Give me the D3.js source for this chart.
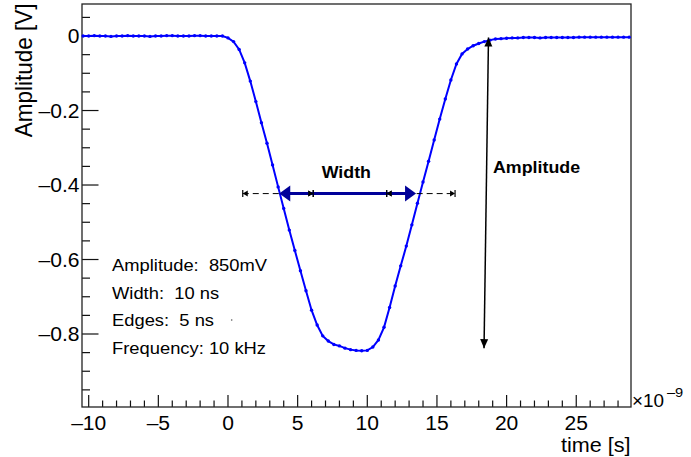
<!DOCTYPE html>
<html><head><meta charset="utf-8">
<script src="https://cdn.jsdelivr.net/npm/d3@7"></script>
<style>body{margin:0;background:#fff}svg{display:block}text{font-family:"Liberation Sans",Arial,Helvetica,sans-serif;white-space:pre}</style>
</head><body>
<script>
// ---- data ----
const times = [-10.4,-10.0,-9.6,-9.2,-8.8,-8.4,-8.0,-7.6,-7.2,-6.8,-6.4,-6.0,-5.6,-5.2,-4.8,-4.4,-4.0,-3.6,-3.2,-2.8,-2.4,-2.0,-1.6,-1.2,-0.8,-0.4,
0.0,0.4,0.8,1.2,1.6,2.0,2.4,2.8,3.2,3.6,4.0,4.4,4.8,5.2,5.6,6.0,6.4,6.8,7.2,7.6,8.0,8.4,8.8,9.2,9.6,10.0,10.4,10.8,11.2,11.6,12.0,12.4,12.8,13.2,13.6,14.0,14.4,14.8,15.2,15.6,16.0,16.4,16.8,17.2,17.6,18.0,18.4,18.8,19.2,
19.6,20.0,20.4,20.8,21.2,21.6,22.0,22.4,22.8,23.2,23.6,24.0,24.4,24.8,25.2,25.6,26.0,26.4,26.8,27.2,27.6,28.0,28.4,28.8];
const amplitude = [0.000,0.000,0.001,0.000,0.000,-0.001,0.000,0.000,0.001,0.000,0.000,0.000,-0.001,0.000,0.000,0.001,0.001,0.000,0.000,0.000,0.001,0.001,0.000,0.000,0.000,0.000,
-0.005,-0.015,-0.036,-0.072,-0.121,-0.176,-0.233,-0.288,-0.346,-0.405,-0.463,-0.521,-0.576,-0.630,-0.684,-0.736,-0.776,-0.805,-0.819,-0.828,-0.832,-0.838,-0.842,-0.844,-0.845,-0.844,-0.835,-0.816,-0.782,-0.729,-0.671,-0.617,-0.564,-0.507,-0.449,-0.392,-0.336,-0.279,-0.223,-0.169,-0.118,-0.075,-0.048,-0.035,-0.026,-0.020,-0.015,-0.011,-0.008,
-0.007,-0.006,-0.005,-0.005,-0.004,-0.004,-0.004,-0.005,-0.004,-0.004,-0.004,-0.004,-0.004,-0.004,-0.003,-0.003,-0.003,-0.003,-0.003,-0.003,-0.003,-0.003,-0.003,-0.003];
const xDomain = [-10.48, 28.93];
const yDomain = [-0.996, 0.086];
const xMajorTicks = [-10,-5,0,5,10,15,20,25];
const yMajorTicks = [0,-0.2,-0.4,-0.6,-0.8];
const yTickLabels = ["0","–0.2","–0.4","–0.6","–0.8"];
const xTickLabels = ["–10","–5","0","5","10","15","20","25"];
const widthSpan = [3.68, 13.5];
const widthLevel = -0.423;
const edgeSpans = [[1.06, 6.12],[11.39, 16.3]];
const ampArrow = [[18.70,-0.004],[18.38,-0.838]];
const infoLines = ["Amplitude:  850mV","Width:  10 ns","Edges:  5 ns","Frequency: 10 kHz"];

// ---- layout ----
const W=691,H=457, L=82,R=631,T=4,B=407, SX=1.08;
const svg=d3.select("body").append("svg").attr("width",W).attr("height",H);
svg.append("rect").attr("width",W).attr("height",H).attr("fill","#fff");
const x=d3.scaleLinear().domain(xDomain).range([L,R]);
const y=d3.scaleLinear().domain(yDomain).range([B,T]);

function txt(px,py,s,size,opt={}){
  const t=svg.append("text").attr("transform",`translate(${px},${py}) scale(${SX},1)`)
    .attr("font-size",size).attr("text-anchor",opt.anchor||"start").attr("fill","#000").text(s);
  if(opt.bold) t.attr("font-weight","bold");
  return t;
}

// axes ticks
const xMinor=d3.range(-10,29,1).filter(v=>v%5!==0);
const yMinor=d3.range(-19,2,1).map(v=>v*0.05).filter(v=>Math.abs(v/0.2-Math.round(v/0.2))>1e-6);
const tk=svg.append("g").attr("stroke","#111").attr("stroke-width",1.2);
xMajorTicks.forEach(v=>tk.append("line").attr("x1",x(v)).attr("x2",x(v)).attr("y1",B).attr("y2",B-12));
xMinor.forEach(v=>tk.append("line").attr("x1",x(v)).attr("x2",x(v)).attr("y1",B).attr("y2",B-6.5));
yMajorTicks.forEach(v=>tk.append("line").attr("y1",y(v)).attr("y2",y(v)).attr("x1",L).attr("x2",L+16.5));
yMinor.forEach(v=>tk.append("line").attr("y1",y(v)).attr("y2",y(v)).attr("x1",L).attr("x2",L+8));
svg.append("rect").attr("x",L).attr("y",T).attr("width",R-L).attr("height",B-T)
  .attr("fill","none").attr("stroke","#222").attr("stroke-width",1.3);

xMajorTicks.forEach((v,i)=>txt(x(v),430,xTickLabels[i],19.5,{anchor:"middle"}));
yMajorTicks.forEach((v,i)=>txt(79.5,y(v)+7.3,yTickLabels[i],19.5,{anchor:"end"}));
txt(632,406.7,"×10",17.5);
txt(667,397,"–9",13.5);
txt(630.5,452,"time [s]",20,{anchor:"end"});
svg.append("text").attr("transform",`translate(31.7,3.5) rotate(-90) scale(1,${SX})`)
  .attr("font-size",22.5).attr("text-anchor","end").text("Amplitude [V]");

// data
const pts=times.map((t,i)=>[t,amplitude[i]]);
svg.append("path").datum(pts).attr("fill","none").attr("stroke","#0000ff").attr("stroke-width",2)
  .attr("d",d3.line().x(d=>x(d[0])).y(d=>y(d[1])));
svg.append("g").selectAll("circle").data(pts).join("circle")
  .attr("cx",d=>x(d[0])).attr("cy",d=>y(d[1])).attr("r",1.7).attr("fill","#0000ff");

// arrows
function head(tip,from,len,hw,color){
  const dx=tip[0]-from[0], dy=tip[1]-from[1], n=Math.hypot(dx,dy), ux=dx/n, uy=dy/n;
  const bx=tip[0]-ux*len, by=tip[1]-uy*len;
  svg.append("path").attr("d",`M${tip[0]},${tip[1]}L${bx-uy*hw},${by+ux*hw}L${bx+uy*hw},${by-ux*hw}Z`).attr("fill",color);
}
const yl=y(widthLevel);
edgeSpans.forEach(s=>{
  const a=x(s[0]), b=x(s[1]);
  svg.append("line").attr("x1",a).attr("x2",b).attr("y1",yl).attr("y2",yl).attr("stroke","#000").attr("stroke-width",1).attr("stroke-dasharray","6,4");
  [a,b].forEach(p=>svg.append("line").attr("x1",p).attr("x2",p).attr("y1",yl-3.5).attr("y2",yl+3.5).attr("stroke","#000").attr("stroke-width",1.2));
  head([a,yl],[b,yl],5,3,"#000"); head([b,yl],[a,yl],5,3,"#000");
});
const wa=x(widthSpan[0]), wb=x(widthSpan[1]);
svg.append("line").attr("x1",wa+6).attr("x2",wb-6).attr("y1",yl).attr("y2",yl).attr("stroke","#000099").attr("stroke-width",3);
head([wa,yl],[wb,yl],11,8,"#000099"); head([wb,yl],[wa,yl],11,8,"#000099");
edgeSpans.forEach(s=>{const b=x(s[1]),a=x(s[0]);
  if(b>wa&&b<wb){svg.append("line").attr("x1",b).attr("x2",b).attr("y1",yl-3.5).attr("y2",yl+3.5).attr("stroke","#000").attr("stroke-width",1.2);head([b,yl],[a,yl],5,3,"#000");}
  if(a>wa&&a<wb){svg.append("line").attr("x1",a).attr("x2",a).attr("y1",yl-3.5).attr("y2",yl+3.5).attr("stroke","#000").attr("stroke-width",1.2);head([a,yl],[b,yl],5,3,"#000");}
});
const p1=[x(ampArrow[0][0]),y(ampArrow[0][1])], p2=[x(ampArrow[1][0]),y(ampArrow[1][1])];
svg.append("line").attr("x1",p1[0]).attr("y1",p1[1]).attr("x2",p2[0]).attr("y2",p2[1]).attr("stroke","#000").attr("stroke-width",1.5);
head(p1,p2,9,4,"#000"); head(p2,p1,9,4,"#000");

txt(346.7-25,178,"Width",16.5,{bold:true});
txt(493,173.3,"Amplitude",16.5,{bold:true});
infoLines.forEach((s,i)=>txt(112,270.7+27.8*i,s,17));
svg.append("circle").attr("cx",231.7).attr("cy",320).attr("r",0.8).attr("fill","#555");
</script>
</body></html>
